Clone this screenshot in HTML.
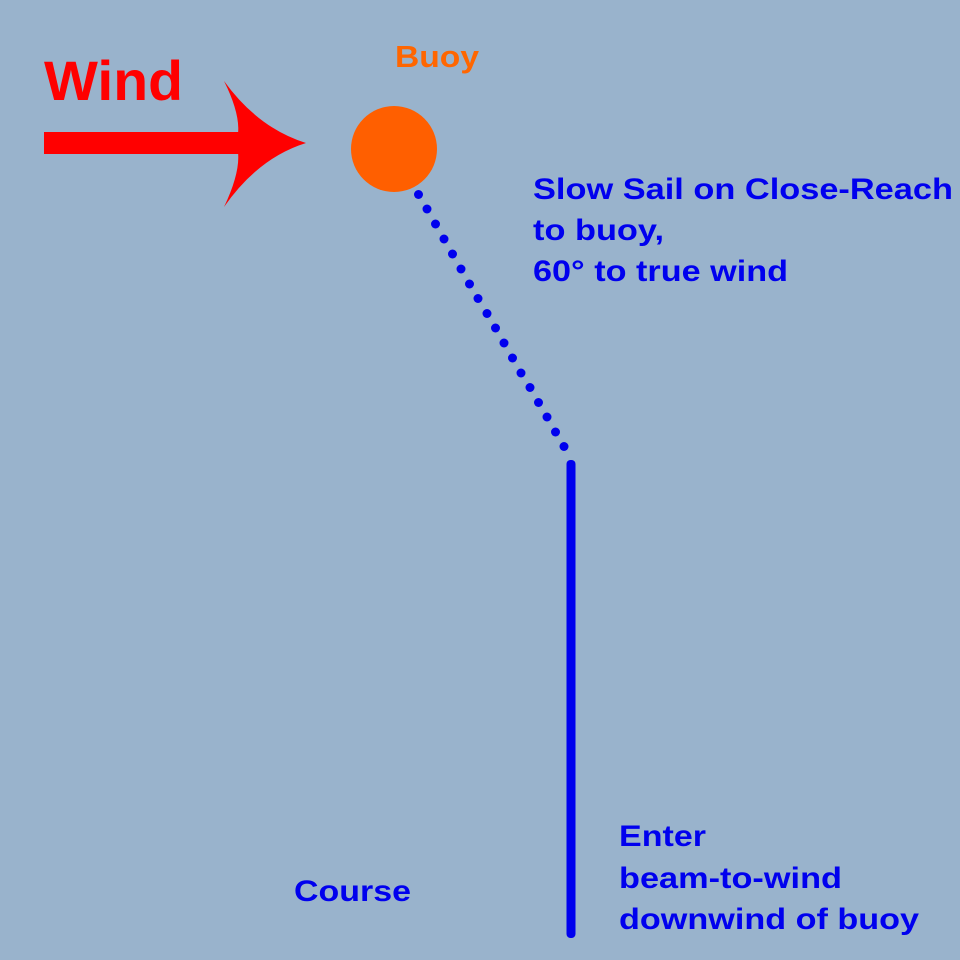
<!DOCTYPE html>
<html><head><style>
body{margin:0;background:#99b3cc;}
svg{display:block}
text{font-family:"Liberation Sans",sans-serif;font-weight:bold}
</style></head><body>
<svg width="960" height="960" viewBox="0 0 960 960">
<rect width="960" height="960" fill="#99b3cc"/>
<text x="44" y="100" font-size="56" fill="#ff0000" textLength="139" lengthAdjust="spacingAndGlyphs">Wind</text>
<rect x="44" y="132" width="200" height="22" fill="#ff0000"/>
<path d="M224,81 Q258,128 306,143 Q258,158 224,207 Q244,165 236,143 Q244,121 224,81Z" fill="#ff0000"/>
<text x="395" y="67" font-size="31" fill="#ff6600" textLength="84" lengthAdjust="spacingAndGlyphs">Buoy</text>
<circle cx="394" cy="149" r="43" fill="#ff5f00"/>
<g fill="#0000ee">
<circle cx="418.5" cy="194.5" r="4.5"/><circle cx="427" cy="209" r="4.5"/><circle cx="435.5" cy="224" r="4.5"/><circle cx="444" cy="239" r="4.5"/><circle cx="452.5" cy="254" r="4.5"/><circle cx="461" cy="269" r="4.5"/><circle cx="469.5" cy="284" r="4.5"/><circle cx="478" cy="298.5" r="4.5"/><circle cx="487" cy="313.5" r="4.5"/><circle cx="495.5" cy="328" r="4.5"/><circle cx="504" cy="343" r="4.5"/><circle cx="512.5" cy="358" r="4.5"/><circle cx="521" cy="373" r="4.5"/><circle cx="530" cy="387.5" r="4.5"/><circle cx="538.5" cy="402.5" r="4.5"/><circle cx="547" cy="417" r="4.5"/><circle cx="555.5" cy="432" r="4.5"/><circle cx="564" cy="446.5" r="4.5"/>
</g>
<rect x="566.5" y="460" width="9" height="478" rx="4" fill="#0000ee"/>
<g font-size="30" fill="#0000ee">
<text x="533" y="199" textLength="420" lengthAdjust="spacingAndGlyphs">Slow Sail on Close-Reach</text>
<text x="533" y="240" textLength="131" lengthAdjust="spacingAndGlyphs">to buoy,</text>
<text x="533" y="281" textLength="255" lengthAdjust="spacingAndGlyphs">60° to true wind</text>
<text x="619" y="846" textLength="87" lengthAdjust="spacingAndGlyphs">Enter</text>
<text x="619" y="888" textLength="223" lengthAdjust="spacingAndGlyphs">beam-to-wind</text>
<text x="619" y="929" textLength="300" lengthAdjust="spacingAndGlyphs">downwind of buoy</text>
<text x="294" y="901" textLength="117" lengthAdjust="spacingAndGlyphs">Course</text>
</g>
</svg>
</body></html>
